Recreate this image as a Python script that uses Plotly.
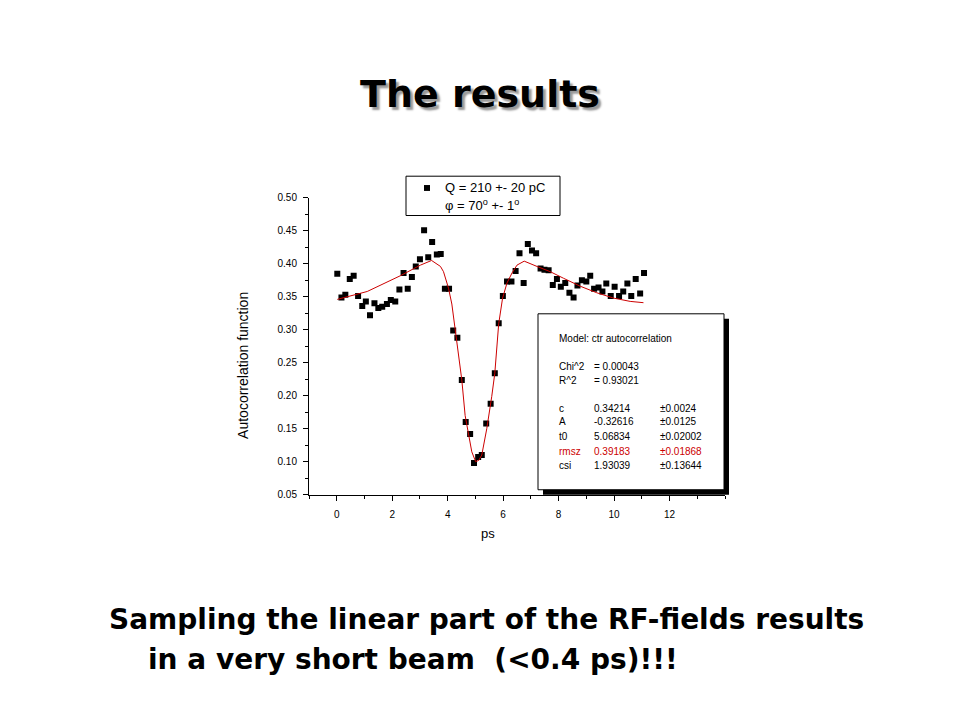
import plotly.graph_objects as go

# ---------------- data ----------------
t_data = [0.02, 0.17, 0.31, 0.47, 0.61, 0.77, 0.92, 1.05, 1.20, 1.36, 1.50, 1.64, 1.81, 1.95,
          2.11, 2.26, 2.41, 2.56, 2.71, 2.85, 3.00, 3.15, 3.30, 3.44, 3.61, 3.75, 3.90, 4.05,
          4.20, 4.35, 4.51, 4.65, 4.81, 4.95, 5.10, 5.23, 5.39, 5.55, 5.70, 5.84, 5.99, 6.14,
          6.30, 6.45, 6.59, 6.74, 6.89, 7.04, 7.19, 7.35, 7.49, 7.64, 7.79, 7.94, 8.08, 8.24,
          8.39, 8.54, 8.68, 8.84, 9.00, 9.14, 9.28, 9.44, 9.58, 9.72, 9.88, 10.02, 10.18,
          10.33, 10.48, 10.62, 10.78, 10.94, 11.08]
acf_data = [0.385, 0.349, 0.353, 0.377, 0.382, 0.351, 0.336, 0.343, 0.322, 0.340, 0.333, 0.335,
            0.339, 0.345, 0.343, 0.361, 0.386, 0.362, 0.380, 0.396, 0.407, 0.451, 0.410, 0.433,
            0.414, 0.415, 0.362, 0.362, 0.299, 0.288, 0.224, 0.160, 0.142, 0.098, 0.107, 0.110,
            0.158, 0.188, 0.234, 0.310, 0.351, 0.373, 0.373, 0.389, 0.416, 0.371, 0.430, 0.420,
            0.416, 0.393, 0.391, 0.390, 0.368, 0.377, 0.365, 0.371, 0.356, 0.349, 0.367, 0.375,
            0.373, 0.382, 0.362, 0.364, 0.358, 0.370, 0.351, 0.365, 0.351, 0.358, 0.370, 0.351,
            0.377, 0.355, 0.386]

t_fit = [0.02, 1.10, 2.30, 3.02, 3.42, 3.74, 3.85, 4.03, 4.15, 4.27, 4.39, 4.51, 4.63, 4.75,
         4.87, 5.01, 5.12, 5.23, 5.41, 5.59, 5.70, 5.84, 5.98, 6.14, 6.32, 6.50, 6.76, 7.22,
         7.70, 8.18, 8.78, 9.38, 9.98, 10.58, 11.06]
acf_fit = [0.346, 0.358, 0.382, 0.398, 0.405, 0.396, 0.388, 0.363, 0.339, 0.299, 0.259, 0.224,
           0.170, 0.140, 0.115, 0.100, 0.102, 0.110, 0.150, 0.199, 0.234, 0.309, 0.348, 0.371,
           0.386, 0.398, 0.404, 0.396, 0.388, 0.378, 0.366, 0.356, 0.348, 0.343, 0.341]

x_ticks = [0, 2, 4, 6, 8, 10, 12]
y_ticks = [0.05, 0.10, 0.15, 0.20, 0.25, 0.30, 0.35, 0.40, 0.45, 0.50]

fit_labels = ["c", "A", "t0", "rmsz", "csi"]
fit_values = ["0.34214", "-0.32616", "5.06834", "0.39183", "1.93039"]
fit_errors = ["±0.0024", "±0.0125", "±0.02002", "±0.01868", "±0.13644"]
fit_colors = ["black", "black", "black", "#cc0000", "black"]

# the page body has an 8px margin; the figure fills the rest of the 960x720 window
OFF = 8
W, H = 960 - 2 * OFF, 720 - 2 * OFF


def px(x):
    return (x - OFF) / W


def py(y):
    return 1 - (y - OFF) / H


AX_FONT = "Liberation Sans, Arial, sans-serif"
TITLE_FONT = "Comic Sans MS, DejaVu Sans, sans-serif"

fig = go.Figure()
fig.add_trace(go.Scatter(x=t_data, y=acf_data, mode="markers",
                         marker=dict(symbol="square", size=6, color="black", line=dict(width=0)),
                         showlegend=False))
fig.add_trace(go.Scatter(x=t_fit, y=acf_fit, mode="lines",
                         line=dict(color="#cc0000", width=1), showlegend=False))

fig.update_layout(
    width=W, height=H,
    margin=dict(l=0, r=0, t=0, b=0),
    paper_bgcolor="white", plot_bgcolor="white",
    showlegend=False,
    xaxis=dict(domain=[px(309), px(725)], range=[-1, 14], tickvals=x_ticks,
               ticks="outside", ticklen=5, tickcolor="black", showgrid=False, zeroline=False,
               showline=True, linecolor="black", linewidth=1, ticklabelstandoff=5,
               tickfont=dict(family=AX_FONT, size=10, color="black"),
               minor=dict(dtick=1, tick0=0, ticks="outside", ticklen=3, tickcolor="black")),
    yaxis=dict(domain=[py(497), py(195)], range=[0.05, 0.50], tickvals=y_ticks,
               tickformat=".2f", ticks="outside", ticklen=5, tickcolor="black",
               showgrid=False, zeroline=False, showline=True, linecolor="black", linewidth=1,
               ticklabelstandoff=4,
               tickfont=dict(family=AX_FONT, size=10, color="black"),
               minor=dict(dtick=0.025, tick0=0.05, ticks="outside", ticklen=3, tickcolor="black")),
)

shapes = []
annots = []

# axis titles
annots.append(dict(x=px(243), y=py(366), xref="paper", yref="paper", text="Autocorrelation function",
                   xanchor="center", yanchor="middle",
                   textangle=-90, showarrow=False, font=dict(family=AX_FONT, size=14, color="black")))
annots.append(dict(x=px(488), y=py(537), xref="paper", yref="paper", text="ps",
                   xanchor="center", yanchor="middle",
                   showarrow=False, font=dict(family=AX_FONT, size=13, color="black")))

# legend box
shapes.append(dict(type="rect", xref="paper", yref="paper", x0=px(406), x1=px(560), y0=py(213), y1=py(173),
                   line=dict(color="black", width=1), fillcolor="white", layer="above"))
shapes.append(dict(type="rect", xref="paper", yref="paper", x0=px(424), x1=px(430), y0=py(188), y1=py(182),
                   line=dict(width=0), fillcolor="black", layer="above"))
annots.append(dict(x=px(443), y=py(185), xref="paper", yref="paper", text="Q = 210 +- 20 pC",
                   xanchor="left", yanchor="middle", showarrow=False,
                   font=dict(family=AX_FONT, size=13, color="black")))
annots.append(dict(x=px(443), y=py(202), xref="paper", yref="paper",
                   text="φ = 70<sup>o</sup> +- 1<sup>o</sup>",
                   xanchor="left", yanchor="middle", showarrow=False,
                   font=dict(family=AX_FONT, size=13, color="black")))

# fit results box with shadow
shapes.append(dict(type="rect", xref="paper", yref="paper", x0=px(543), x1=px(729), y0=py(497), y1=py(318),
                   line=dict(width=0), fillcolor="black", layer="above"))
shapes.append(dict(type="rect", xref="paper", yref="paper", x0=px(538), x1=px(724), y0=py(492), y1=py(313),
                   line=dict(color="black", width=1), fillcolor="white", layer="above"))

FB = dict(family=AX_FONT, size=10, color="black")
annots.append(dict(x=px(557), y=py(338), xref="paper", yref="paper", text="Model: ctr autocorrelation",
                   xanchor="left", yanchor="middle", showarrow=False, font=FB))
annots.append(dict(x=px(557), y=py(367), xref="paper", yref="paper", text="Chi^2",
                   xanchor="left", yanchor="middle", showarrow=False, font=FB))
annots.append(dict(x=px(592), y=py(367), xref="paper", yref="paper", text="= 0.00043",
                   xanchor="left", yanchor="middle", showarrow=False, font=FB))
annots.append(dict(x=px(557), y=py(381), xref="paper", yref="paper", text="R^2",
                   xanchor="left", yanchor="middle", showarrow=False, font=FB))
annots.append(dict(x=px(592), y=py(381), xref="paper", yref="paper", text="= 0.93021",
                   xanchor="left", yanchor="middle", showarrow=False, font=FB))

row_y = [409, 423, 438, 453, 467]
for lab, val, err, col, yy in zip(fit_labels, fit_values, fit_errors, fit_colors, row_y):
    f = dict(family=AX_FONT, size=10, color=col)
    annots.append(dict(x=px(557), y=py(yy), xref="paper", yref="paper", text=lab,
                       xanchor="left", yanchor="middle", showarrow=False, font=f))
    annots.append(dict(x=px(592), y=py(yy), xref="paper", yref="paper", text=val,
                       xanchor="left", yanchor="middle", showarrow=False, font=f))
    annots.append(dict(x=px(658), y=py(yy), xref="paper", yref="paper", text=err,
                       xanchor="left", yanchor="middle", showarrow=False, font=f))

# slide title
annots.append(dict(x=px(480), y=py(89), xref="paper", yref="paper", text="<b>The results</b>",
                   xanchor="center", yanchor="middle", showarrow=False,
                   font=dict(family=TITLE_FONT, size=38, color="black", shadow="3px 3px 2px #999999")))

# bottom text
annots.append(dict(x=px(107), y=py(624), xref="paper", yref="paper",
                   text="<b>Sampling the linear part of the RF-fields results</b>",
                   xanchor="left", yanchor="middle", showarrow=False,
                   font=dict(family=TITLE_FONT, size=28, color="black")))
annots.append(dict(x=px(146), y=py(665), xref="paper", yref="paper",
                   text="<b>in a very short beam  (&lt;0.4 ps)!!!</b>",
                   xanchor="left", yanchor="middle", showarrow=False,
                   font=dict(family=TITLE_FONT, size=28, color="black")))

fig.update_layout(shapes=shapes, annotations=annots)
fig.write_html("out.html")
